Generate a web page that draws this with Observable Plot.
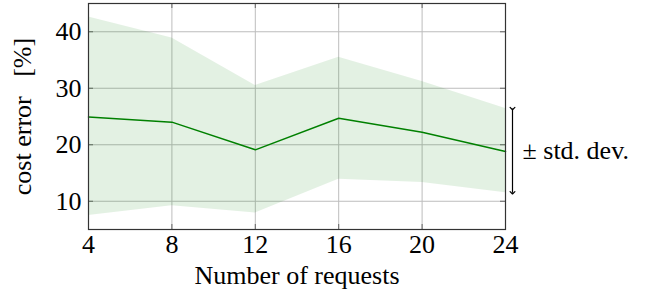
<!DOCTYPE html>
<html>
<head>
<meta charset="utf-8">
<script src="https://cdn.jsdelivr.net/npm/d3@7"></script>
<script src="https://cdn.jsdelivr.net/npm/@observablehq/plot@0.6"></script>
<style>
  html, body { margin: 0; padding: 0; background: white; }
</style>
</head>
<body>
<div id="chart"></div>
<script>
const requests = [4, 8, 12, 16, 20, 24];
const meanError = [24.9, 24.0, 19.1, 24.7, 22.2, 18.8];
const upperError = [42.6, 38.9, 30.5, 35.5, 31.2, 26.4];
const lowerError = [7.5, 9.2, 7.9, 13.9, 13.3, 11.5];
const xTicks = [4, 8, 12, 16, 20, 24];
const yTicks = [10, 20, 30, 40];

const data = requests.map((r, i) => ({x: r, y: meanError[i], hi: upperError[i], lo: lowerError[i]}));
const last = data[data.length - 1];
const note = [{x: last.x, hi: last.hi, lo: last.lo, mid: (last.hi + last.lo) / 2}];

const W = 656, H = 292, ML = 88, MR = 151, MT = 3, MB = 63;
const innerW = W - ML - MR, innerH = H - MT - MB;

const chart = Plot.plot({
  width: W, height: H,
  marginLeft: ML, marginRight: MR, marginTop: MT, marginBottom: MB,
  style: {fontFamily: "'Liberation Serif', 'DejaVu Serif', serif", fontSize: "26px", background: "white", color: "black", overflow: "visible"},
  x: {domain: [4, 24]},
  y: {domain: [5, 45]},
  marks: [
    Plot.gridX(xTicks, {stroke: "#bdbdbd", strokeOpacity: 1}),
    Plot.gridY(yTicks, {stroke: "#bdbdbd", strokeOpacity: 1}),
    Plot.tickY(yTicks, {stroke: "#666", insetRight: innerW - 5}),
    Plot.tickY(yTicks, {stroke: "#666", insetLeft: innerW - 5}),
    Plot.tickX(xTicks, {stroke: "#666", insetTop: innerH - 5}),
    Plot.tickX(xTicks, {stroke: "#666", insetBottom: innerH - 5}),
    Plot.areaY(data, {x: "x", y1: "lo", y2: "hi", fill: "green", fillOpacity: 0.11}),
    Plot.line(data, {x: "x", y: "y", stroke: "#008000", strokeWidth: 1.5}),
    Plot.axisX(xTicks, {tickSize: 0, tickPadding: 5, label: "Number of requests", labelAnchor: "center", labelArrow: "none", labelOffset: 54, tickFormat: d => d, fill: "black"}),
    Plot.axisY(yTicks, {tickSize: 0, tickPadding: 7, label: "cost error \u2002[%]", labelAnchor: "center", labelArrow: "none", labelOffset: 76, tickFormat: d => d, fill: "black"}),
    Plot.frame({stroke: "#333", strokeWidth: 1.2}),
    Plot.link(note, {x1: "x", x2: "x", y1: "hi", y2: "lo", dx: 7, stroke: "black", strokeWidth: 1.2, markerStart: "arrow", markerEnd: "arrow"}),
    Plot.text(note, {x: "x", y: "mid", dx: 17, textAnchor: "start", text: () => "\u00b1 std. dev.", fill: "black"})
  ]
});
document.getElementById("chart").appendChild(chart);
</script>
</body>
</html>
